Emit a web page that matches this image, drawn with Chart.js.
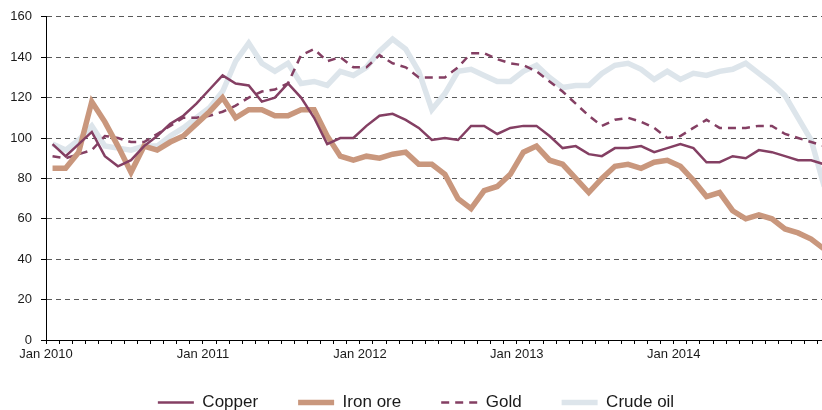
<!DOCTYPE html>
<html>
<head>
<meta charset="utf-8">
<script src="https://cdn.jsdelivr.net/npm/chart.js@4"></script>
<style>
  html, body { margin: 0; padding: 0; background: #fff; overflow: hidden; }
  #wrap { width: 822px; height: 410px; }
</style>
</head>
<body>
<div id="wrap"><canvas id="chart" width="822" height="410"></canvas></div>
<script>
// --- data (monthly index, Jan 2010 = first point) ---
const yearLabels = ['Jan 2010', 'Jan 2011', 'Jan 2012', 'Jan 2013', 'Jan 2014'];
const monthCount = 60;

const copper = [
  97, 91, 97, 103, 91, 86, 89, 96, 101, 107,
  111, 117, 124, 131, 127, 126, 118, 120, 127, 120,
  110, 97, 100, 100, 106, 111, 112, 109, 105, 99,
  100, 99, 106, 106, 102, 105, 106, 106, 101, 95,
  96, 92, 91, 95, 95, 96, 93, 95, 97, 95,
  88, 88, 91, 90, 94, 93, 91, 89, 89, 87
];
const ironOre = [
  85, 85, 93, 118, 108, 96, 83, 96, 94, 98,
  101, 107, 113, 120, 110, 114, 114, 111, 111, 114,
  114, 101, 91, 89, 91, 90, 92, 93, 87, 87,
  82, 70, 65, 74, 76, 82, 93, 96, 89, 87,
  80, 73, 80, 86, 87, 85, 88, 89, 86, 79,
  71, 73, 64, 60, 62, 60, 55, 53, 50, 45
];
const gold = [
  91, 90, 92, 94, 101, 100, 98, 98, 102, 106,
  110, 110, 111, 113, 116, 120, 123, 124, 127, 141,
  144, 138, 140, 135, 135, 141, 137, 135, 130, 130,
  130, 135, 142, 142, 139, 137, 136, 133, 128, 123,
  117, 111, 106, 109, 110, 108, 105, 100, 101, 105,
  109, 105, 105, 105, 106, 106, 102, 100, 98, 96
];
const crudeOil = [
  97, 94, 99, 106, 96, 95, 94, 96, 96, 101,
  105, 110, 115, 123, 138, 147, 137, 133, 137, 127,
  128, 126, 133, 131, 135, 143, 149, 144, 133, 114,
  122, 133, 134, 131, 128, 128, 133, 136, 130, 125,
  126, 126, 132, 136, 137, 134, 129, 133, 129, 132,
  131, 133, 134, 137, 132, 127, 121, 110, 99, 76
];

const PLUM = '#843f63';
const TAN = '#c9977d';
const MIST = '#dde5eb';
const TEXT = '#1a1a1a';
const FONT = "'Liberation Sans', Arial, sans-serif";

function toPoints(values) {
  return values.map((v, i) => ({ x: i, y: v }));
}

// month boundaries for the small tick marks
const tickPositions = [];
for (let i = 0; i < monthCount; i++) tickPositions.push(i - 0.5);

// legend: wide gaps between items, but a short box; items drawn a little right and up
const legendTweak = {
  id: 'legendTweak',
  beforeInit(chart) {
    const legend = chart.legend;
    const fit = legend.fit;
    legend.fit = function() {
      fit.bind(legend)();
      this.height = 46;
    };
    const drawItems = legend._draw;
    legend._draw = function() {
      const ctx = this.ctx;
      ctx.save();
      ctx.translate(5, -10);
      drawItems.apply(legend, arguments);
      ctx.restore();
    };
  }
};

new Chart(document.getElementById('chart'), {
  type: 'line',
  data: {
    datasets: [
      { label: 'Copper', data: toPoints(copper), borderColor: PLUM, backgroundColor: PLUM, borderWidth: 2.5 },
      { label: 'Iron ore', data: toPoints(ironOre), borderColor: TAN, backgroundColor: TAN, borderWidth: 5.5 },
      { label: 'Gold', data: toPoints(gold), borderColor: PLUM, backgroundColor: PLUM, borderWidth: 2.5, borderDash: [8, 6] },
      { label: 'Crude oil', data: toPoints(crudeOil), borderColor: MIST, backgroundColor: MIST, borderWidth: 5.5 }
    ]
  },
  options: {
    responsive: false,
    animation: false,
    devicePixelRatio: 1,
    layout: { padding: { top: 8, left: 0, right: 0, bottom: 0 } },
    elements: { point: { radius: 0, hoverRadius: 0 }, line: { tension: 0, borderCapStyle: 'butt', borderJoinStyle: 'miter' } },
    plugins: {
      tooltip: { enabled: false },
      legend: {
        position: 'bottom',
        labels: {
          usePointStyle: true,
          pointStyle: 'line',
          pointStyleWidth: 36,
          padding: 40,
          color: TEXT,
          font: { family: FONT, size: 17 },
          generateLabels: chart => Chart.defaults.plugins.legend.labels.generateLabels(chart).map(item => {
            const ds = chart.data.datasets[item.datasetIndex];
            return { ...item, lineDash: ds.borderDash || [], lineWidth: ds.borderWidth, strokeStyle: ds.borderColor };
          })
        }
      }
    },
    scales: {
      x: {
        type: 'linear',
        min: -0.5,
        max: 58.83,
        afterBuildTicks: axis => { axis.ticks = tickPositions.map(v => ({ value: v })); },
        afterFit: axis => { axis.height = 24; },
        ticks: {
          autoSkip: false,
          maxRotation: 0,
          minRotation: 0,
          padding: 3,
          color: TEXT,
          font: { family: FONT, size: 13 },
          callback: (value, index) => (index % 12 === 0 ? yearLabels[index / 12] : '')
        },
        grid: { drawOnChartArea: false, tickLength: 4, tickColor: '#000' },
        border: { display: true, color: '#000', width: 1 }
      },
      y: {
        min: 0,
        max: 160,
        afterFit: axis => { axis.width = 46; },
        ticks: { stepSize: 20, padding: 9, color: TEXT, font: { family: FONT, size: 13 } },
        grid: {
          color: ctx => (ctx.tick && ctx.tick.value === 0 ? 'rgba(0,0,0,0)' : '#595959'),
          lineWidth: 1,
          tickLength: 5,
          tickColor: '#000'
        },
        border: { display: true, color: '#000', width: 1, dash: [5, 4] }
      }
    }
  },
  plugins: [legendTweak]
});
</script>
</body>
</html>
